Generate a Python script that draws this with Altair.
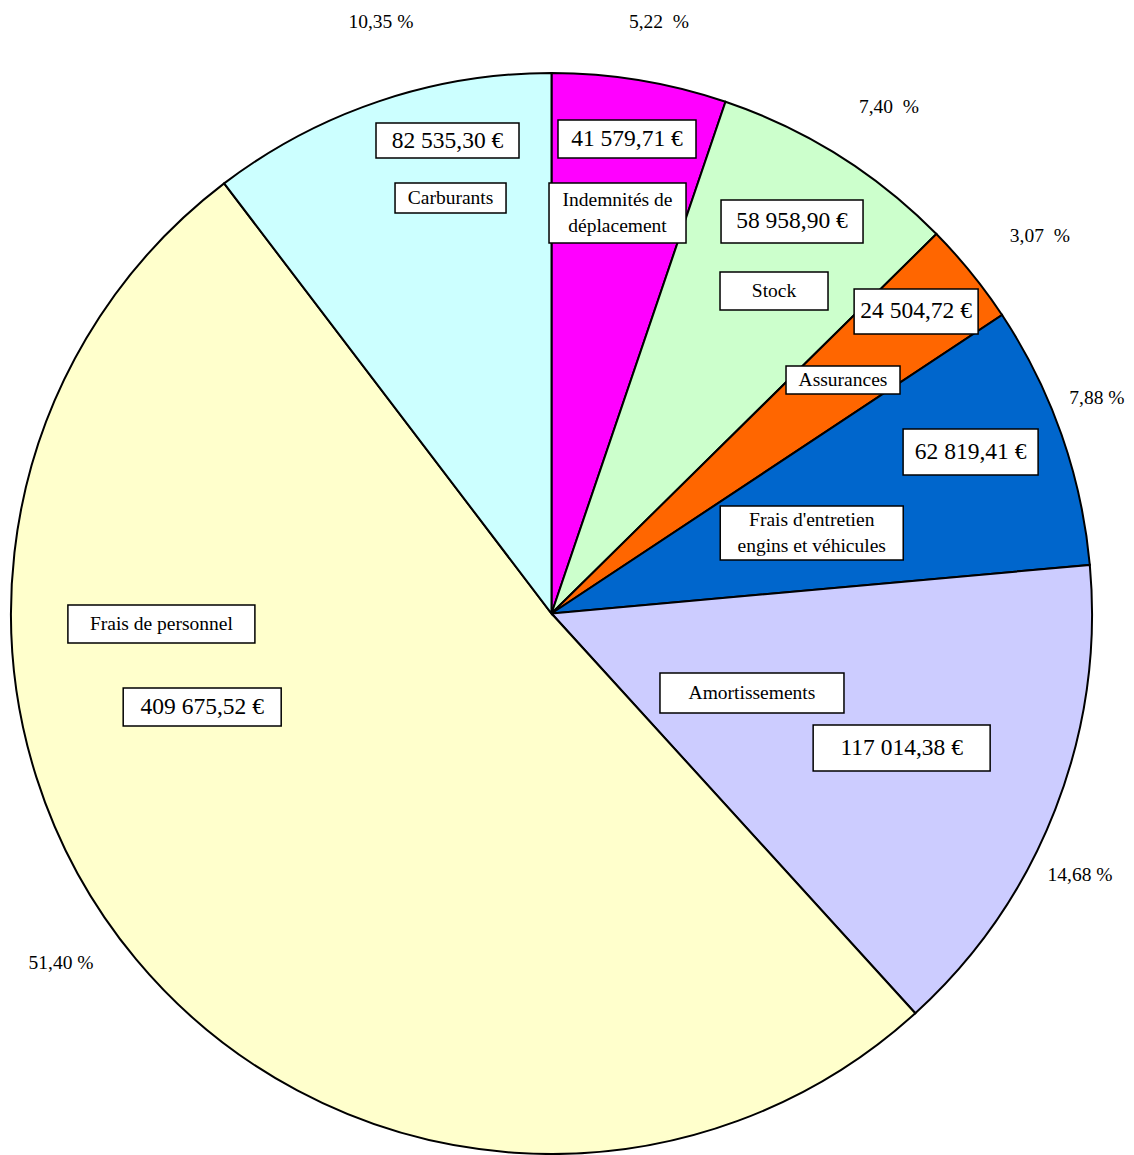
import math
import altair as alt
import pandas as pd

# ---------------- data ----------------
categories = [
    "Indemnités de déplacement",
    "Stock",
    "Assurances",
    "Frais d'entretien engins et véhicules",
    "Amortissements",
    "Frais de personnel",
    "Carburants",
]
name_labels = [
    "Indemnités de\ndéplacement",
    "Stock",
    "Assurances",
    "Frais d'entretien\nengins et véhicules",
    "Amortissements",
    "Frais de personnel",
    "Carburants",
]
amounts = [41579.71, 58958.90, 24504.72, 62819.41, 117014.38, 409675.52, 82535.30]
amount_labels = ["41 579,71 €", "58 958,90 €", "24 504,72 €", "62 819,41 €",
                 "117 014,38 €", "409 675,52 €", "82 535,30 €"]
pct_labels = ["5,22\u00a0 %", "7,40\u00a0 %", "3,07\u00a0 %", "7,88 %",
              "14,68 %", "51,40 %", "10,35 %"]
colors = ["#FF00FF", "#CCFFCC", "#FF6600", "#0066CC", "#CCCCFF", "#FFFFCC", "#CCFFFF"]

# ---------------- layout ----------------
W, H = 1118, 1147
CX, CY, R = 543.5, 605.5, 540.5
FONT = "Liberation Serif"
LINE_H = 26

# label anchors: (angle in degrees clockwise from 12 o'clock, radius as fraction of pie radius)
value_pos = [(9.04, 0.889), (31.53, 0.851), (50.36, 0.876), (68.92, 0.831),
             (111.02, 0.694), (255.02, 0.669), (347.60, 0.896)]
value_box = [(138, 38), (142, 43), (124, 45), (135, 46), (177, 46), (158, 38), (143, 35)]
name_pos = [(9.36, 0.751), (34.60, 0.725), (51.31, 0.691), (72.80, 0.504),
            (111.63, 0.399), (268.46, 0.722), (346.34, 0.791)]
name_box = [(137, 60), (108, 38), (114, 28), (183, 54), (184, 40), (187, 38), (111, 30)]
pct_pos = [(10.30, 1.112), (33.68, 1.126), (52.30, 1.142), (68.44, 1.085),
           (116.33, 1.091), (234.53, 1.114), (343.92, 1.139)]


def polar(angle, frac):
    a = math.radians(angle)
    return frac * math.sin(a), frac * math.cos(a)


pie_df = pd.DataFrame({
    "category": categories,
    "amount": amounts,
    "idx": list(range(len(categories))),
    "color": colors,
})

rows_val, rows_name, rows_pct = [], [], []
for i in range(len(categories)):
    u, v = polar(*value_pos[i])
    w, h = value_box[i]
    rows_val.append({"u": u, "v": v, "u1": u - w / 2 / R, "u2": u + w / 2 / R,
                     "v1": v - h / 2 / R, "v2": v + h / 2 / R, "text": amount_labels[i]})
    u, v = polar(*name_pos[i])
    w, h = name_box[i]
    nlines = name_labels[i].count("\n") + 1
    # shift multi-line blocks so the whole block is centred in its box
    v_text = v + (nlines - 1) * LINE_H / 2 / R
    rows_name.append({"u": u, "v": v_text, "u1": u - w / 2 / R, "u2": u + w / 2 / R,
                      "v1": v - h / 2 / R, "v2": v + h / 2 / R, "text": name_labels[i]})
    u, v = polar(*pct_pos[i])
    rows_pct.append({"u": u, "v": v, "text": pct_labels[i]})

val_df = pd.DataFrame(rows_val)
name_df = pd.DataFrame(rows_name)
pct_df = pd.DataFrame(rows_pct)

xs = alt.Scale(domain=[-CX / R, (W - CX) / R], nice=False, zero=False)
ys = alt.Scale(domain=[(CY - H) / R, CY / R], nice=False, zero=False)

pie = alt.Chart(pie_df).mark_arc(
    outerRadius=R, stroke="black", strokeWidth=2
).encode(
    theta=alt.Theta("amount:Q", stack=True),
    color=alt.Color("color:N", scale=None),
    order=alt.Order("idx:Q"),
    x=alt.value(CX),
    y=alt.value(CY),
)


def boxes(df):
    return alt.Chart(df).mark_rect(fill="white", stroke="black", strokeWidth=1.5).encode(
        x=alt.X("u1:Q", scale=xs, axis=None),
        x2="u2:Q",
        y=alt.Y("v1:Q", scale=ys, axis=None),
        y2="v2:Q",
    )


def texts(df, size, **kw):
    return alt.Chart(df).mark_text(
        font=FONT, fontSize=size, color="black", align="center", baseline="middle", **kw
    ).encode(
        x=alt.X("u:Q", scale=xs, axis=None),
        y=alt.Y("v:Q", scale=ys, axis=None),
        text="text:N",
    )


chart = alt.layer(
    pie,
    boxes(val_df),
    boxes(name_df),
    texts(val_df, 23.5),
    texts(name_df, 19.5, lineBreak="\n", lineHeight=LINE_H),
    texts(pct_df, 19.5),
).properties(
    width=W, height=H, padding=0, autosize=alt.AutoSizeParams(type="none")
).configure_view(stroke=None)

chart.save("out.html", embed_options={"renderer": "svg", "actions": False})
